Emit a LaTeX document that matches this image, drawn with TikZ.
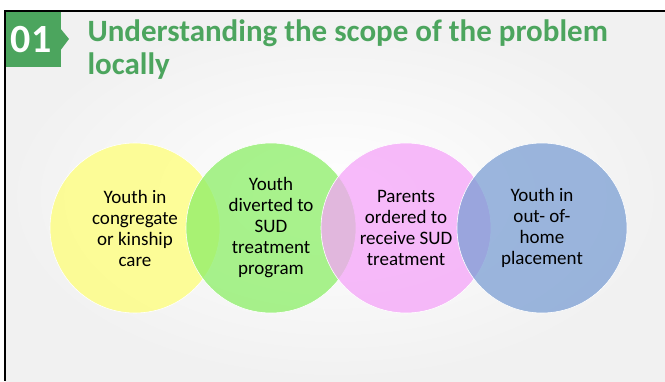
\documentclass[tikz,border=0pt]{standalone}
\usepackage{fontspec}
\setmainfont{Carlito}
\usetikzlibrary{positioning}

\definecolor{titlegreen}{RGB}{76,165,94}
\definecolor{cyel}{RGB}{255,255,120}
\definecolor{cgrn}{RGB}{140,239,103}
\definecolor{cpnk}{RGB}{245,164,249}
\definecolor{cblu}{RGB}{124,159,212}
\definecolor{slidegray}{RGB}{241,241,241}

\tikzset{
  ring/.style={circle, minimum size=170pt, inner sep=0pt, draw=white,
    line width=0.6pt, fill opacity=0.75},
  ringtext/.style={align=center, text=black,
    font=\fontsize{19}{21}\selectfont},
}

\begin{document}
\begin{tikzpicture}[x=1pt, y=1pt]
\useasboundingbox (0,0) rectangle (665,381);

% slide background and frame
\shade[inner color=white, outer color=slidegray] (5,0) rectangle (665,370);
\draw[line width=2pt] (5,0) -- (5,370) -- (665,370);

% number tab
\fill[titlegreen] (6,314) rectangle (61,369);
\fill[titlegreen] (60,353) -- (69,342) -- (60,330) -- cycle;
\node[text=white, font=\fontsize{40}{40}\selectfont\bfseries] (num) at (31,341) {01};

\node[anchor=base west, align=left, text=titlegreen,
  font=\fontsize{31}{33}\selectfont\bfseries] (title) at (84,306)
  {Understanding the scope of the problem\\locally};

\foreach \i/\x/\c in%
    {1/135/cyel,
     2/271/cgrn,
     3/406/cpnk,
     4/542/cblu} {
  \node[ring, fill=\c] (c_\i) at (\x, 153) {};
}

\node[ringtext] (t_1) at (c_1) {Youth in\\congregate\\or kinship\\care};
\node[ringtext] (t_2) at (c_2) {Youth\\diverted to\\SUD\\treatment\\program};
\node[ringtext] (t_3) at (c_3) {Parents\\ordered to\\receive SUD\\treatment};
\node[ringtext] (t_4) at (c_4) {Youth in\\out- of-\\home\\placement};

\end{tikzpicture}
\end{document}
